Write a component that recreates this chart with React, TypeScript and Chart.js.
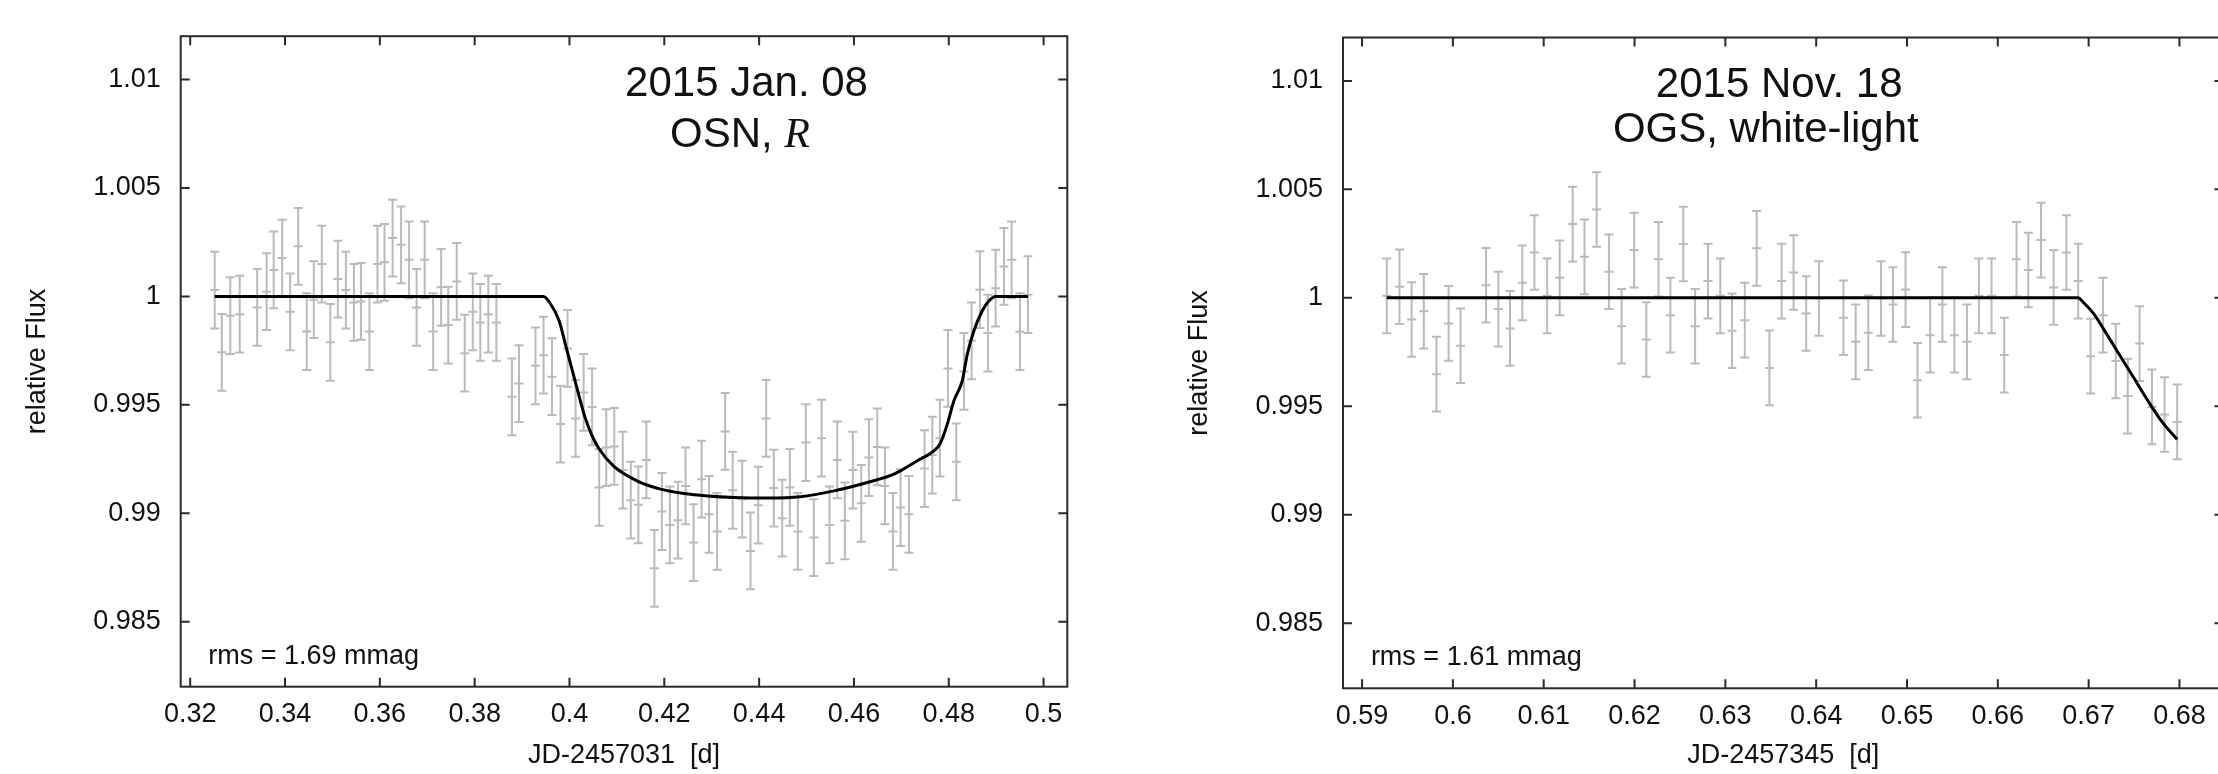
import React, { useEffect, useRef } from "react";
import { Chart, registerables } from "chart.js";

Chart.register(...registerables);

// ---------------- Panel A : 2015 Jan. 08, OSN, R ----------------
const timeA = [
  0.32517, 0.32667, 0.32846, 0.33045, 0.33413, 0.33612, 0.33761, 0.3394, 0.34109, 0.34279,
  0.34458, 0.34607, 0.34776, 0.34955, 0.35114, 0.35284, 0.35453, 0.35602, 0.35781, 0.3595,
  0.36099, 0.36269, 0.36448, 0.36617, 0.36776, 0.36945, 0.37124, 0.37293, 0.37443, 0.37622,
  0.37791, 0.3796, 0.38119, 0.38288, 0.38458, 0.38786, 0.38935, 0.39283, 0.39453, 0.39632,
  0.39811, 0.3996, 0.40129, 0.40298, 0.40477, 0.40627, 0.40776, 0.40945, 0.41124, 0.41293,
  0.41453, 0.41622, 0.41791, 0.4195, 0.42119, 0.42288, 0.42448, 0.42617, 0.42786, 0.42945,
  0.43114, 0.43283, 0.43443, 0.43643, 0.43818, 0.43981, 0.44149, 0.4431, 0.44487, 0.44648,
  0.44817, 0.44986, 0.45154, 0.45317, 0.45485, 0.45648, 0.45808, 0.45977, 0.46154, 0.46315,
  0.46492, 0.46653, 0.46821, 0.46984, 0.47159, 0.4749, 0.47653, 0.47813, 0.47982, 0.48159,
  0.4832, 0.48482, 0.48657, 0.48826, 0.48989, 0.49164, 0.49326, 0.49501, 0.4967,
];
const fluxA = [
  1.00029, 0.99742, 0.99911, 0.99918, 0.99949, 1.00022, 1.00122, 1.00177, 0.99929, 1.00231,
  0.99838, 0.99985, 1.00149, 0.99788, 1.0008, 1.00029, 0.99972, 0.99977, 0.99838, 1.00149,
  1.00157, 1.00269, 1.00238, 1.00169, 0.99949, 1.00169, 0.99838, 1.00042, 0.99868, 1.00069,
  0.99738, 0.99929, 0.9988, 0.99918, 0.9988, 0.99537, 0.99598, 0.9968, 0.99729, 0.9963,
  0.99411, 0.9976, 0.99437, 0.99557, 0.9949, 0.99119, 0.99303, 0.99308, 0.99199, 0.9906,
  0.99039, 0.99246, 0.98746, 0.99008, 0.98946, 0.98968, 0.99126, 0.98865, 0.99157, 0.98995,
  0.98916, 0.99377, 0.99106, 0.99065, 0.98826, 0.99037, 0.99437, 0.99116, 0.98977, 0.99119,
  0.98916, 0.99326, 0.98888, 0.99346, 0.98946, 0.99246, 0.98965, 0.99199, 0.99046, 0.99257,
  0.99306, 0.99126, 0.98916, 0.99026, 0.98995, 0.99206, 0.99268, 0.99346, 0.99668, 0.99237,
  0.99654, 0.99795, 1.00031, 0.99831, 1.00038, 1.00138, 1.00169, 0.99837, 1.00008,
];
const errA = 0.00177;
const modelTimeA = [
  0.32517, 0.39453, 0.3958, 0.39781, 0.3993, 0.4008, 0.40229, 0.40328, 0.40477, 0.40627,
  0.40925, 0.41423, 0.4192, 0.42418, 0.42915, 0.43466, 0.4417, 0.44873, 0.45577, 0.4628,
  0.46843, 0.47336, 0.47687, 0.47814, 0.47969, 0.48109, 0.48285, 0.48391, 0.48531, 0.48707,
  0.48848, 0.48989, 0.4967,
];
const modelFluxA = [
  1.0, 1.0, 0.99972, 0.99888, 0.99765, 0.99642, 0.99518, 0.99442, 0.99357, 0.99296,
  0.99218, 0.99149, 0.99111, 0.99091, 0.9908, 0.99073, 0.9907, 0.99076, 0.99103, 0.99142,
  0.9918, 0.99242, 0.99288, 0.99319, 0.99411, 0.99519, 0.99611, 0.99734, 0.99842, 0.99934,
  0.9998, 1.0, 1.0,
];
const xTicksA = [0.32, 0.34, 0.36, 0.38, 0.4, 0.42, 0.44, 0.46, 0.48, 0.5];

// ---------------- Panel B : 2015 Nov. 18, OGS, white-light ----------------
const timeB = [
  0.59272, 0.59412, 0.59546, 0.5968, 0.59819, 0.59953, 0.60084, 0.60365, 0.605, 0.60629,
  0.60764, 0.60898, 0.61038, 0.61176, 0.61319, 0.61449, 0.61583, 0.61718, 0.61857, 0.61995,
  0.6213, 0.62264, 0.62395, 0.62537, 0.62667, 0.62809, 0.62944, 0.63074, 0.63214, 0.63345,
  0.63485, 0.6362, 0.63751, 0.6389, 0.6403, 0.643, 0.64435, 0.64574, 0.64713, 0.64845,
  0.64984, 0.65116, 0.65255, 0.6539, 0.65522, 0.6566, 0.65792, 0.65931, 0.66071, 0.66206,
  0.66336, 0.66476, 0.66615, 0.66755, 0.66885, 0.67021, 0.67159, 0.67299, 0.67431, 0.67561,
  0.67697, 0.67836, 0.67975,
];
const fluxB = [
  1.00009, 1.00051, 0.999, 0.99938, 0.99648, 0.99882, 0.99779, 1.00058, 0.99948, 0.99859,
  1.00069, 1.00209, 1.00009, 1.00092, 1.0034, 1.00189, 1.00407, 1.0012, 0.99869, 1.0022,
  0.99808, 1.00178, 0.9992, 1.00248, 0.99869, 1.00077, 1.00009, 0.99848, 0.99897, 1.00228,
  0.99677, 1.00077, 1.00117, 0.99928, 0.99997, 0.99908, 0.99797, 0.99839, 0.99997, 0.99969,
  1.00038, 0.9962, 0.99828, 0.99969, 0.99828, 0.99797, 1.00009, 1.00009, 0.99736, 1.00178,
  1.00128, 1.00266, 1.00048, 1.00209, 1.00077, 0.99731, 0.9992, 0.99709, 0.99547, 0.99789,
  0.99497, 0.99462, 0.99428,
];
const errB = 0.00172;
const modelTimeB = [0.59272, 0.66885, 0.66935, 0.67053, 0.67172, 0.67331, 0.6749, 0.67649, 0.67809, 0.67975];
const modelFluxB = [1.0, 1.0, 0.99982, 0.99928, 0.99851, 0.99743, 0.99636, 0.99528, 0.99428, 0.99347];
const xTicksB = [0.59, 0.6, 0.61, 0.62, 0.63, 0.64, 0.65, 0.66, 0.67, 0.68];

const yTicks = [0.985, 0.99, 0.995, 1, 1.005, 1.01];

// ---------------- styling ----------------
const SANS = '"Liberation Sans", Arial, Helvetica, sans-serif';
const SERIF = '"Liberation Serif", "Times New Roman", Times, serif';
const TEXT = "#111111";
const BAR = "#bababa";

type Part = { text: string; font: string };
type TextItem = { x: number; y: number; align: "left" | "center"; parts: Part[] };

type Panel = {
  times: number[];
  flux: number[];
  err: number;
  modelT: number[];
  modelF: number[];
  xTicks: number[];
  xMin: number;
  xMax: number;
  xTitle: string;
  padding: { left: number; top: number; right: number; bottom: number };
  yWidth: number;
  xHeight: number;
  yTitlePad: number;
  texts: TextItem[];
};

const fmt = (v: number) => String(parseFloat(Number(v).toFixed(4)));

function makeDecor(p: Panel) {
  return {
    id: "decor",
    beforeDatasetsDraw(chart: any) {
      const ctx = chart.ctx;
      const xs = chart.scales.x;
      const ys = chart.scales.y;
      const cap = 4.5;
      ctx.save();
      ctx.strokeStyle = BAR;
      ctx.lineWidth = 2;
      ctx.beginPath();
      p.times.forEach((t, i) => {
        const px = xs.getPixelForValue(t);
        const top = ys.getPixelForValue(p.flux[i] + p.err);
        const bot = ys.getPixelForValue(p.flux[i] - p.err);
        ctx.moveTo(px, top);
        ctx.lineTo(px, bot);
        ctx.moveTo(px - cap, top);
        ctx.lineTo(px + cap, top);
        ctx.moveTo(px - cap, bot);
        ctx.lineTo(px + cap, bot);
      });
      ctx.stroke();
      ctx.restore();
    },
    afterDraw(chart: any) {
      const ctx = chart.ctx;
      const a = chart.chartArea;
      const xs = chart.scales.x;
      const ys = chart.scales.y;
      const L = 9;
      ctx.save();
      ctx.strokeStyle = "#2a2a2a";
      ctx.lineWidth = 2;
      ctx.strokeRect(a.left, a.top, a.right - a.left, a.bottom - a.top);
      ctx.beginPath();
      xs.ticks.forEach((tk: any) => {
        const px = xs.getPixelForValue(tk.value);
        ctx.moveTo(px, a.bottom);
        ctx.lineTo(px, a.bottom - L);
        ctx.moveTo(px, a.top);
        ctx.lineTo(px, a.top + L);
      });
      ys.ticks.forEach((tk: any) => {
        const py = ys.getPixelForValue(tk.value);
        ctx.moveTo(a.left, py);
        ctx.lineTo(a.left + L, py);
        ctx.moveTo(a.right, py);
        ctx.lineTo(a.right - L, py);
      });
      ctx.stroke();

      ctx.fillStyle = TEXT;
      ctx.textBaseline = "alphabetic";
      ctx.textAlign = "left";
      p.texts.forEach((it) => {
        let w = 0;
        it.parts.forEach((pt) => {
          ctx.font = pt.font;
          w += ctx.measureText(pt.text).width;
        });
        let x = xs.getPixelForValue(it.x);
        const y = ys.getPixelForValue(it.y);
        if (it.align === "center") x -= w / 2;
        it.parts.forEach((pt) => {
          ctx.font = pt.font;
          ctx.fillText(pt.text, x, y);
          x += ctx.measureText(pt.text).width;
        });
      });
      ctx.restore();
    },
  };
}

function makeConfig(p: Panel): any {
  const tickFont = { family: SANS, size: 27 };
  return {
    type: "scatter",
    data: {
      datasets: [
        {
          type: "line",
          data: p.modelT.map((t, i) => ({ x: t, y: p.modelF[i] })),
          borderColor: "#000000",
          borderWidth: 3,
          pointRadius: 0,
          fill: false,
          showLine: true,
          cubicInterpolationMode: "monotone",
        },
        {
          type: "scatter",
          data: p.times.map((t, i) => ({ x: t, y: p.flux[i] })),
          pointStyle: "line",
          pointRadius: 4.5,
          borderColor: BAR,
          backgroundColor: BAR,
          borderWidth: 2,
        },
      ],
    },
    options: {
      animation: false,
      responsive: false,
      devicePixelRatio: 1,
      events: [],
      layout: { padding: p.padding },
      plugins: { legend: { display: false }, tooltip: { enabled: false } },
      scales: {
        x: {
          type: "linear",
          min: p.xMin,
          max: p.xMax,
          afterFit: (s: any) => {
            s.height = p.xHeight;
          },
          afterBuildTicks: (s: any) => {
            s.ticks = p.xTicks.map((v) => ({ value: v }));
          },
          grid: { display: false, drawTicks: false },
          border: { display: false },
          ticks: { padding: 12, font: tickFont, color: TEXT, maxRotation: 0, callback: (v: any) => fmt(v) },
          title: {
            display: true,
            text: p.xTitle,
            font: tickFont,
            color: TEXT,
            padding: { top: 0, bottom: 2 },
          },
        },
        y: {
          type: "linear",
          min: 0.982,
          max: 1.012,
          afterFit: (s: any) => {
            s.width = p.yWidth;
          },
          afterBuildTicks: (s: any) => {
            s.ticks = yTicks.map((v) => ({ value: v }));
          },
          grid: { display: false, drawTicks: false },
          border: { display: false },
          ticks: { padding: 20, font: tickFont, color: TEXT, callback: (v: any) => fmt(v) },
          title: {
            display: true,
            text: "relative Flux",
            font: tickFont,
            color: TEXT,
            padding: { top: p.yTitlePad, bottom: 0 },
          },
        },
      },
    },
    plugins: [makeDecor(p)],
  };
}

const panelA: Panel = {
  times: timeA,
  flux: fluxA,
  err: errA,
  modelT: modelTimeA,
  modelF: modelFluxA,
  xTicks: xTicksA,
  xMin: 0.318,
  xMax: 0.505,
  xTitle: "JD-2457031  [d]",
  padding: { left: 0, top: 35, right: 32.7, bottom: 0 },
  yWidth: 180.7,
  xHeight: 87.3,
  yTitlePad: 21.4,
  texts: [
    { x: 0.43734, y: 1.00924, align: "center", parts: [{ text: "2015 Jan. 08", font: `42px ${SANS}` }] },
    {
      x: 0.43597,
      y: 1.00691,
      align: "center",
      parts: [
        { text: "OSN, ", font: `42px ${SANS}` },
        { text: "R", font: `italic 42px ${SERIF}` },
      ],
    },
    { x: 0.32382, y: 0.98305, align: "left", parts: [{ text: "rms = 1.69 mmag", font: `27px ${SANS}` }] },
  ],
};

const panelB: Panel = {
  times: timeB,
  flux: fluxB,
  err: errB,
  modelT: modelTimeB,
  modelF: modelFluxB,
  xTicks: xTicksB,
  xMin: 0.5879,
  xMax: 0.68485,
  xTitle: "JD-2457345  [d]",
  padding: { left: 0, top: 37.5, right: 4, bottom: 0 },
  yWidth: 243,
  xHeight: 85.7,
  yTitlePad: 83.4,
  texts: [
    { x: 0.63593, y: 1.00927, align: "center", parts: [{ text: "2015 Nov. 18", font: `42px ${SANS}` }] },
    { x: 0.63445, y: 1.00717, align: "center", parts: [{ text: "OGS, white-light", font: `42px ${SANS}` }] },
    { x: 0.59097, y: 0.98307, align: "left", parts: [{ text: "rms = 1.61 mmag", font: `27px ${SANS}` }] },
  ],
};

function LightCurve({ panel, left, width }: { panel: Panel; left: number; width: number }) {
  const ref = useRef<HTMLCanvasElement | null>(null);
  useEffect(() => {
    if (!ref.current) return;
    const chart = new Chart(ref.current, makeConfig(panel));
    return () => chart.destroy();
  }, [panel]);
  return (
    <canvas
      ref={ref}
      width={width}
      height={774}
      style={{ position: "absolute", left, top: 0, width, height: 774 }}
    />
  );
}

export default function App() {
  return (
    <div
      style={{
        position: "absolute",
        left: 0,
        top: 0,
        width: 2218,
        height: 774,
        overflow: "hidden",
        background: "#ffffff",
      }}
    >
      <LightCurve panel={panelA} left={0} width={1100} />
      <LightCurve panel={panelB} left={1100} width={1130} />
    </div>
  );
}
